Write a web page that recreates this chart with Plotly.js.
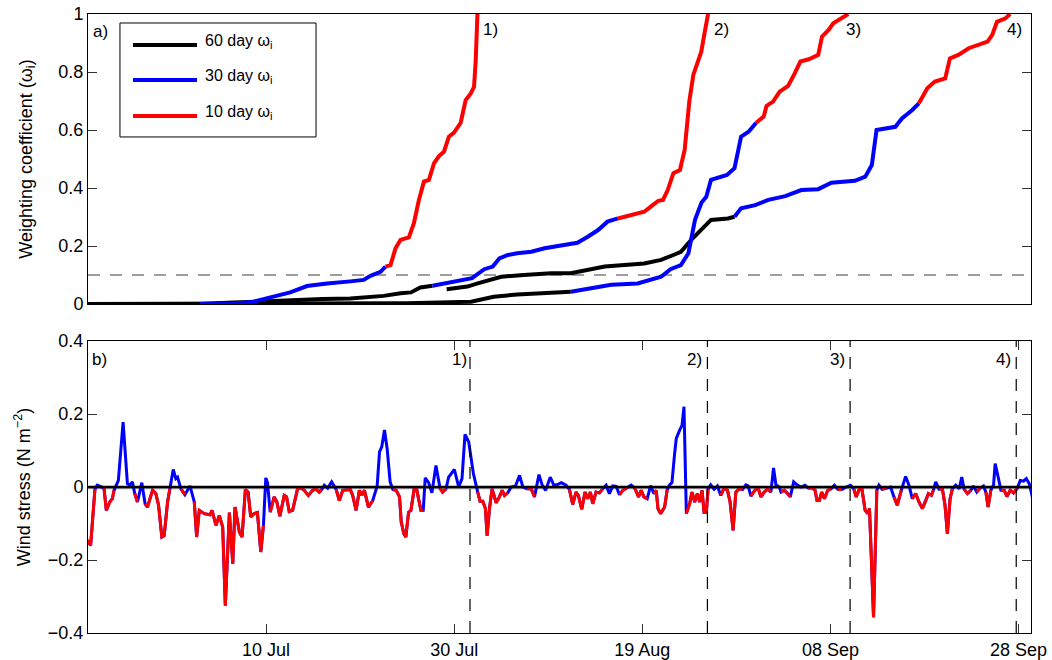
<!DOCTYPE html>
<html>
<head>
<meta charset="utf-8">
<script src="https://cdn.plot.ly/plotly-3.0.1.min.js"></script>
<style>
  html, body { margin: 0; padding: 0; background: #fff; }
  #chart { width: 1052px; height: 660px; }
</style>
</head>
<body>
<div id="chart"></div>
<script>
// All times are days since 21 Jun 2013 00:00 UTC.
const START_MS = Date.UTC(2013, 5, 21);

// ---- (a) weighting coefficient curves, one per event ----
// Each curve is coloured by the averaging window in use:
// 60 day (black) up to the first switch, 30 day (blue) up to the second, 10 day (red) after.
const w1Day = [0, 11.97, 15.5, 17.65, 19.08, 20.15, 21.57, 23.35, 25.48, 27.96, 29.38, 30.10, 31.16, 31.70,
  32.23, 32.76, 33.29, 34.18, 34.71, 35.25, 35.78, 36.31, 36.85, 37.38, 37.91, 38.44, 38.98, 39.69,
  40.22, 40.76, 41.11, 41.29, 41.47];
const w1Val = [0, 0.000, 0.001, 0.008, 0.020, 0.031, 0.040, 0.062, 0.071, 0.078, 0.083, 0.097, 0.111, 0.129,
  0.134, 0.192, 0.221, 0.230, 0.278, 0.359, 0.422, 0.428, 0.485, 0.510, 0.525, 0.577, 0.591, 0.625,
  0.703, 0.726, 0.749, 0.841, 1.0];
const w1Switch = [11.97, 31.70];

const w2Day = [0, 12.0, 15.5, 19.1, 21.6, 25.0, 27.96, 29.6, 31.5, 33.3, 34.4, 35.4, 36.7,
  38.6, 40.9, 42.2, 43.1, 43.8, 44.7, 45.7, 47.2, 48.6, 50.7, 52.1, 53.2, 54.3, 55.3, 56.4,
  57.8, 59.2, 59.9, 60.7, 61.2, 61.7, 62.3, 63.0, 63.5, 64.0, 64.42, 64.96, 65.27, 65.59, 65.99];
const w2Val = [0, 0.000, 0.005, 0.010, 0.014, 0.017, 0.019, 0.022, 0.028, 0.037, 0.040, 0.057, 0.063,
  0.074, 0.089, 0.120, 0.129, 0.157, 0.169, 0.175, 0.180, 0.192, 0.203, 0.211, 0.232, 0.255, 0.284, 0.295,
  0.307, 0.318, 0.336, 0.356, 0.359, 0.393, 0.451, 0.462, 0.531, 0.700, 0.790, 0.840, 0.870, 0.930, 1.0];
const w2Switch = [36.7, 56.4];

const w3Day = [0, 28.0, 34.0, 40.8, 43.2, 45.7, 48.6, 51.4,
  53.5, 55.7, 58.5, 59.9, 61.0, 62.0, 63.1, 63.9, 64.6, 65.3, 65.8, 66.3, 67.1, 68.0, 68.8, 69.2, 69.5, 70.3, 71.1,
  71.9, 72.2, 72.9, 73.6, 74.5, 75.2, 75.8, 76.7, 77.7, 78.1, 78.8, 79.3, 80.2, 80.9];
const w3Val = [0, 0.002, 0.003, 0.008, 0.025, 0.033, 0.039, 0.042,
  0.054, 0.066, 0.071, 0.083, 0.094, 0.120, 0.134, 0.175, 0.290, 0.350, 0.370, 0.428, 0.437, 0.445, 0.468, 0.531, 0.577, 0.594, 0.625,
  0.646, 0.683, 0.698, 0.732, 0.752, 0.795, 0.836, 0.844, 0.859, 0.922, 0.945, 0.968, 0.985, 1.0];
const w3Switch = [51.4, 71.1];

const w4Day = [38.2, 40.4, 41.5, 42.9, 44.0, 46.4, 49.3, 51.4, 52.8, 55.0, 59.2, 61.0, 62.3, 63.1, 64.2, 65.3, 66.3, 68.1, 68.8,
  69.5, 71.0, 72.4, 74.2, 75.9, 77.7, 79.1, 81.6, 82.7, 83.4, 83.9, 85.9, 86.6, 87.7, 88.4,
  89.3, 90.1, 91.2, 91.7, 92.6, 93.7, 94.8, 95.7, 96.2, 96.7, 97.6, 98.1];
const w4Val = [0.051, 0.060, 0.071, 0.083, 0.094, 0.100, 0.106, 0.106, 0.115, 0.129, 0.140, 0.152, 0.169, 0.180, 0.221, 0.258, 0.290, 0.295, 0.301,
  0.330, 0.341, 0.359, 0.372, 0.393, 0.396, 0.418, 0.425, 0.439, 0.479, 0.600, 0.611, 0.640, 0.669, 0.692,
  0.744, 0.767, 0.778, 0.847, 0.859, 0.882, 0.893, 0.905, 0.928, 0.973, 0.985, 1.0];
const w4Switch = [68.8, 88.4];

const weightThreshold = 0.1;

// ---- (b) wind stress, N m^-2 ----
const tauDay = [0.00, 0.35, 0.81, 1.06, 1.77, 2.02, 2.38, 2.66, 2.84, 3.30, 3.80, 4.26, 4.51, 4.79, 5.04, 5.33, 5.79,
  6.14, 6.39, 6.93, 7.28, 7.57, 7.92, 8.17, 8.53, 8.77, 9.13, 9.41, 9.59, 9.95, 10.37, 10.91, 11.37, 11.62, 11.90,
  12.43, 13.04, 13.25, 13.68, 14.03, 14.39, 14.67, 15.10, 15.46, 15.70, 16.17, 16.45, 16.80,
  17.09, 17.37, 17.73, 18.08, 18.44, 18.72, 18.97, 19.15, 19.44, 19.86, 20.15, 20.47, 20.93, 21.18, 21.46, 21.82,
  22.35, 22.71, 23.06, 23.49, 23.95, 24.30, 24.66, 24.91, 25.19, 25.55, 25.97, 26.44, 26.79, 27.15, 27.50, 27.96,
  28.21, 28.57, 28.92, 29.17, 29.46, 29.88, 30.34, 30.81, 31.06, 31.30, 31.59, 31.87, 32.19, 32.48, 32.83, 33.19,
  33.37, 33.65,
  33.86, 34.15, 34.40, 34.75, 35.00, 35.46, 35.71, 35.92, 36.28, 36.63, 37.06, 37.49, 37.77, 38.13, 38.41, 38.77,
  39.02, 39.26, 39.48, 39.83, 40.15, 40.54, 40.79, 41.04, 41.50, 41.75, 42.04, 42.32, 42.50, 42.75, 43.03, 43.46,
  43.81, 44.10, 44.35, 44.70, 45.06, 45.52, 45.95, 46.30, 46.73, 47.19, 47.54, 48.01, 48.36, 48.72, 49.21, 49.57,
  49.93, 50.39,
  50.89, 51.24, 51.60, 51.95, 52.20, 52.56, 52.91, 53.19, 53.48, 53.73, 54.08, 54.44, 54.79, 55.15, 55.50, 55.86,
  56.22, 56.57, 56.93, 57.39, 57.81, 58.17, 58.60, 58.88, 59.17, 59.52, 59.88, 60.23, 60.48, 60.66, 60.94, 61.37,
  61.65, 61.90, 62.15, 62.43, 62.61, 62.97, 63.22, 63.43, 63.68, 64.03, 64.28, 64.57, 64.85, 65.10, 65.35, 65.56,
  65.81, 65.99, 66.27, 66.63, 66.98,
  67.34, 67.69, 68.05, 68.33, 68.65, 68.94, 69.29, 69.65, 70.00, 70.25, 70.54, 70.96, 71.32, 71.60, 71.96, 72.31,
  72.67, 72.95, 73.20, 73.56, 73.74, 74.09, 74.45, 74.73, 75.09, 75.44, 75.87, 76.29, 76.65, 77.11, 77.36, 77.57,
  77.82, 78.07, 78.36, 78.71, 79.07, 79.42, 79.78, 80.20, 80.66, 81.13, 81.48, 81.73, 82.09, 82.33, 82.69, 82.97,
  83.15, 83.58, 83.93,
  84.15, 84.50, 84.97, 85.39, 85.75, 86.10, 86.53, 86.99, 87.35, 87.70, 88.06, 88.41, 88.77, 89.12, 89.41, 89.73,
  89.94, 90.19, 90.54, 90.90, 91.18, 91.43, 91.72, 91.96, 92.32, 92.68, 92.96, 93.21, 93.56, 93.92, 94.20, 94.56,
  94.91, 95.27, 95.52, 95.76, 96.05, 96.34, 96.51, 96.83, 97.12, 97.47, 97.76, 98.11, 98.47, 98.83, 99.18, 99.53,
  99.82, 100.14, 100.46];
const tauVal = [-0.146, -0.160, -0.005, 0.005, -0.003, -0.064, -0.041, -0.032, -0.009, 0.018, 0.178, 0.009, 0.005, 0.014, -0.018, -0.041, 0.012,
  -0.046, -0.055, -0.009, -0.018, -0.050, -0.137, -0.133, -0.041, -0.005, 0.048, 0.023, 0.027, -0.005, -0.021, 0.003, -0.041, -0.137, -0.064,
  -0.073, -0.076, -0.064, -0.105, -0.078, -0.110, -0.325, -0.070, -0.210, -0.055, -0.124, -0.137, -0.007,
  -0.014, -0.082, -0.073, -0.070, -0.178, -0.105, 0.025, 0.012, -0.069, -0.027, -0.041, -0.080, -0.023, -0.027, -0.067, -0.064,
  -0.005, -0.003, -0.009, -0.023, -0.009, -0.006, -0.014, -0.007, 0.005, -0.003, 0.014, -0.006, -0.037, -0.009, -0.009, -0.007,
  -0.023, -0.064, -0.009, -0.023, -0.009, -0.055, -0.037, 0.003, 0.096, 0.110, 0.156, 0.105, 0.014, -0.007, -0.009, -0.027,
  -0.096, -0.128,
  -0.137, -0.069, -0.064, -0.005, -0.005, -0.064, -0.064, 0.025, 0.012, -0.016, 0.059, -0.003, -0.014, -0.005, 0.027, 0.041,
  0.048, 0.023, 0.000, 0.023, 0.144, 0.124, 0.078, 0.037, -0.014, -0.039, -0.039, -0.059, -0.133, -0.059, -0.005, -0.043,
  -0.027, -0.009, -0.023, -0.016, 0.000, 0.003, 0.032, 0.000, -0.005, -0.005, -0.027, 0.034, 0.005, -0.009, 0.027, 0.006,
  0.006, 0.012,
  0.005, -0.006, -0.048, -0.014, -0.023, -0.061, -0.014, -0.032, -0.014, -0.046, -0.014, -0.016, -0.005, 0.005, -0.018, 0.003,
  0.002, -0.021, -0.009, -0.002, 0.005, -0.002, -0.027, -0.009, -0.027, -0.032, 0.004, -0.018, -0.009, -0.059, -0.073, -0.055,
  -0.007, 0.006, 0.012, 0.091, 0.133, 0.156, 0.169, 0.220, -0.073, -0.046, -0.014, -0.041, -0.018, -0.041, -0.009, -0.069,
  -0.069, -0.005, 0.006, -0.006, 0.003,
  -0.023, -0.003, -0.009, -0.041, -0.119, -0.014, -0.005, -0.007, 0.006, 0.003, -0.025, -0.009, -0.003, -0.027, -0.014, -0.006,
  -0.014, 0.052, 0.006, 0.000, -0.014, -0.009, -0.018, -0.027, 0.014, 0.006, 0.000, 0.005, -0.003, -0.003, -0.009, -0.037,
  -0.037, -0.014, -0.032, -0.009, -0.005, 0.005, -0.006, -0.007, 0.000, 0.005, -0.005, -0.027, -0.005, -0.003, -0.064, -0.073,
  -0.059, -0.357, -0.009,
  0.005, -0.006, -0.003, 0.000, -0.027, -0.050, -0.009, 0.029, 0.005, -0.032, -0.018, -0.041, -0.059, -0.039, -0.018, -0.023,
  -0.009, 0.014, -0.006, -0.005, -0.050, -0.128, -0.032, -0.005, 0.005, -0.005, 0.027, -0.006, -0.018, -0.009, 0.003, -0.014,
  -0.003, 0.003, -0.014, -0.055, -0.009, 0.006, 0.064, 0.027, -0.009, -0.009, -0.026, -0.009, -0.016, -0.005, 0.018, 0.016,
  0.023, 0.009, -0.027];

// Onsets of the four events (dashed markers in panel b)
const eventDay = [40.68, 65.92, 81.09, 98.75];
const eventLabel = ['1)', '2)', '3)', '4)'];

// Axis ticks
const dateTicks = ['2013-07-10', '2013-07-30', '2013-08-19', '2013-09-08', '2013-09-28'];
const weightTicks = [0, 0.2, 0.4, 0.6, 0.8, 1];
const stressTicks = [-0.4, -0.2, 0, 0.2, 0.4];

const legendNames = ['60 day ω<sub>i</sub>', '30 day ω<sub>i</sub>', '10 day ω<sub>i</sub>'];

const BLACK = '#000000', BLUE = '#0000ff', RED = '#ff0000';
const FONT = 'Liberation Sans, Arial, Helvetica, sans-serif';

function toDate(day) {
  return new Date(START_MS + day * 86400000).toISOString().slice(0, 19).replace('T', ' ');
}

// Split one weighting curve into its three window-coloured pieces.
function curvePieces(days, vals, sw) {
  const pick = (lo, hi) => {
    const x = [], y = [];
    days.forEach((d, i) => { if (d >= lo && d <= hi) { x.push(toDate(d)); y.push(vals[i]); } });
    return { x, y };
  };
  return [
    Object.assign(pick(-Infinity, sw[0]), { color: BLACK }),
    Object.assign(pick(sw[0], sw[1]), { color: BLUE }),
    Object.assign(pick(sw[1], Infinity), { color: RED })
  ];
}

const curves = [
  curvePieces(w1Day, w1Val, w1Switch),
  curvePieces(w2Day, w2Val, w2Switch),
  curvePieces(w3Day, w3Val, w3Switch),
  curvePieces(w4Day, w4Val, w4Switch)
];

const traces = [];
// black pieces first, then blue, then red on top
[0, 1, 2].forEach(k => {
  curves.forEach(c => {
    const p = c[k];
    if (p.x.length > 1) {
      traces.push({
        x: p.x, y: p.y, xaxis: 'x', yaxis: 'y', mode: 'lines', type: 'scatter',
        line: { color: p.color, width: 4 }, hoverinfo: 'skip'
      });
    }
  });
});

const tauDates = tauDay.map(toDate);
// full series in blue, the negative stretches overdrawn in red
traces.push({
  x: tauDates, y: tauVal, xaxis: 'x2', yaxis: 'y2', mode: 'lines', type: 'scatter',
  line: { color: BLUE, width: 3 }, hoverinfo: 'skip'
});
traces.push({
  x: tauDates, y: tauVal.map(v => (v < 0 ? v : null)), xaxis: 'x2', yaxis: 'y2',
  mode: 'lines', type: 'scatter', connectgaps: false,
  line: { color: RED, width: 3 }, hoverinfo: 'skip'
});

const xRange = [toDate(0.07), toDate(100.32)];

const axisCommon = {
  showgrid: false, zeroline: false, showline: true, linecolor: BLACK, linewidth: 1,
  ticks: 'inside', ticklen: 9, tickwidth: 1, tickcolor: '#333', mirror: 'allticks',
  tickfont: { family: FONT, size: 18, color: BLACK }
};

const shapes = [];
const annotations = [];

// threshold line in (a)
shapes.push({
  type: 'line', xref: 'x domain', yref: 'y', x0: 0, x1: 1, y0: weightThreshold, y1: weightThreshold,
  line: { color: '#7f7f7f', width: 1.5, dash: '12px,10px' }, layer: 'below'
});

// zero line in (b)
shapes.push({
  type: 'line', xref: 'x2 domain', yref: 'y2', x0: 0, x1: 1, y0: -0.004, y1: -0.004,
  line: { color: '#a0a0a0', width: 1.5 }, layer: 'below'
});
shapes.push({
  type: 'line', xref: 'x2 domain', yref: 'y2', x0: 0, x1: 1, y0: 0, y1: 0,
  line: { color: BLACK, width: 2.5 }, layer: 'above'
});

// event markers in (b)
eventDay.forEach(d => {
  shapes.push({
    type: 'line', xref: 'x2', yref: 'y2 domain', x0: toDate(d), x1: toDate(d), y0: 0, y1: 1,
    line: { color: BLACK, width: 1.2, dash: '12px,10px' }, layer: 'above'
  });
});

// legend box in (a)
shapes.push({
  type: 'rect', xref: 'x domain', yref: 'y domain', x0: 0.0339, x1: 0.2418, y0: 0.576, y1: 0.969,
  line: { color: BLACK, width: 1 }, fillcolor: '#ffffff', layer: 'above'
});
const legendRows = [0.893, 0.772, 0.648];
const legendColors = [BLACK, BLUE, RED];
legendRows.forEach((ry, i) => {
  shapes.push({
    type: 'line', xref: 'x domain', yref: 'y domain', x0: 0.0477, x1: 0.1156, y0: ry, y1: ry,
    line: { color: legendColors[i], width: 4 }, layer: 'above'
  });
  annotations.push({
    xref: 'x domain', yref: 'y domain', x: 0.1220, y: ry + 0.012, xanchor: 'left', yanchor: 'middle',
    text: legendNames[i], showarrow: false, font: { family: FONT, size: 16, color: BLACK }
  });
});

// panel letters and event numbers
const labelFont = { family: FONT, size: 17, color: BLACK };
function label(xref, yref, x, y, text) {
  return { xref, yref, x, y, text, xanchor: 'center', yanchor: 'middle', showarrow: false, font: labelFont };
}
annotations.push(label('x domain', 'y domain', 0.0133, 0.941, 'a)'));
annotations.push(label('x2 domain', 'y2 domain', 0.0127, 0.935, 'b)'));
const topLabelX = [0.4263, 0.6718, 0.8118, 0.9830];
const botLabelX = [0.394, 0.643, 0.795, 0.971];
eventLabel.forEach((t, i) => {
  annotations.push(label('x domain', 'y domain', topLabelX[i], 0.945, t));
  annotations.push(label('x2 domain', 'y2 domain', botLabelX[i], 0.935, t));
});

const layout = {
  width: 1052, height: 660,
  margin: { l: 88, r: 21, t: 14, b: 27 },
  paper_bgcolor: '#ffffff', plot_bgcolor: '#ffffff',
  showlegend: false,
  font: { family: FONT, size: 18, color: BLACK },
  xaxis: Object.assign({}, axisCommon, {
    domain: [0, 1], anchor: 'y', type: 'date', range: xRange,
    showticklabels: false, ticks: '', mirror: true
  }),
  yaxis: Object.assign({}, axisCommon, {
    domain: [0.5315, 1], anchor: 'x', range: [0, 1], tickvals: weightTicks,
    title: { text: 'Weighting coefficient (ω<sub>i</sub>)', font: { family: FONT, size: 18, color: BLACK }, standoff: 21 }
  }),
  xaxis2: Object.assign({}, axisCommon, {
    domain: [0, 1], anchor: 'y2', type: 'date', range: xRange,
    tickvals: dateTicks, tickformat: '%d %b'
  }),
  yaxis2: Object.assign({}, axisCommon, {
    domain: [0, 0.4717], anchor: 'x2', range: [-0.4, 0.4], tickvals: stressTicks,
    title: { text: 'Wind stress (N m<sup>−2</sup>)', font: { family: FONT, size: 18, color: BLACK }, standoff: 12 }
  }),
  shapes: shapes,
  annotations: annotations
};

Plotly.newPlot('chart', traces, layout, { staticPlot: true, displayModeBar: false });
</script>
</body>
</html>
